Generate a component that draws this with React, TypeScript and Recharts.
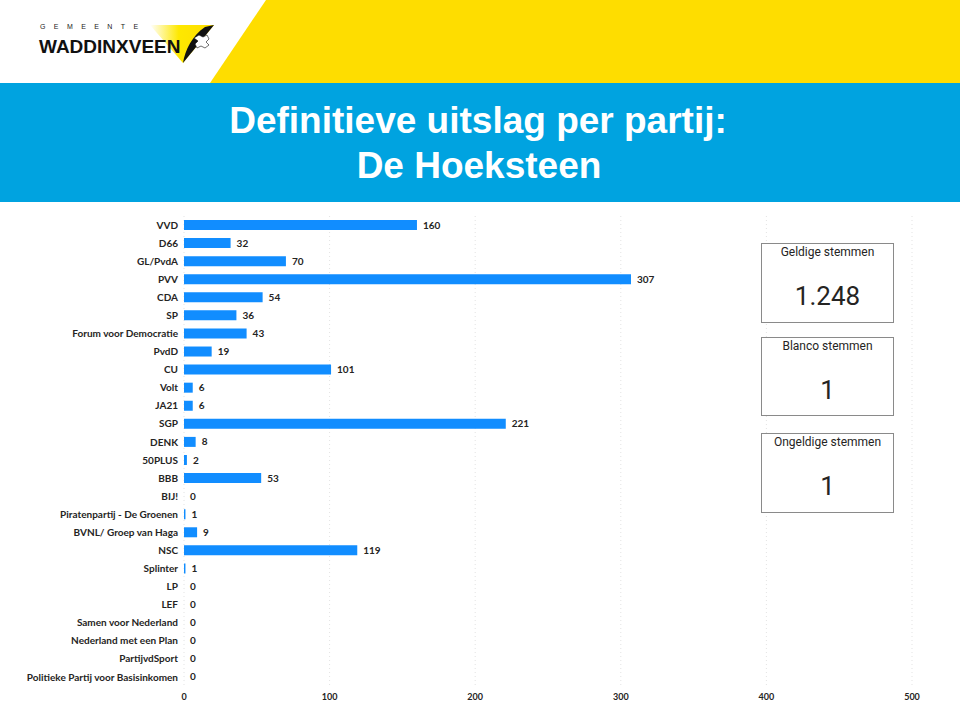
import React from 'react';
import { BarChart, Bar, XAxis, YAxis, CartesianGrid, LabelList } from 'recharts';

const parties = [
  'VVD', 'D66', 'GL/PvdA', 'PVV', 'CDA', 'SP', 'Forum voor Democratie', 'PvdD', 'CU', 'Volt',
  'JA21', 'SGP', 'DENK', '50PLUS', 'BBB', 'BIJ!', 'Piratenpartij - De Groenen',
  'BVNL/ Groep van Haga', 'NSC', 'Splinter', 'LP', 'LEF', 'Samen voor Nederland',
  'Nederland met een Plan', 'PartijvdSport', 'Politieke Partij voor Basisinkomen',
];
const votes = [160, 32, 70, 307, 54, 36, 43, 19, 101, 6, 6, 221, 8, 2, 53, 0, 1, 9, 119, 1, 0, 0, 0, 0, 0, 0];
const xTicks = [0, 100, 200, 300, 400, 500];

const cardTitles = ['Geldige stemmen', 'Blanco stemmen', 'Ongeldige stemmen'];
const cardValues = ['1.248', '1', '1'];

const data = parties.map((p, i) => ({ party: p, votes: votes[i] }));

const BLUE = '#118DFF';
const TEXT = '#252423';
const labelFont = 'Lato, "Open Sans", sans-serif';
const arial = 'Liberation Sans, Arial, sans-serif';

function Header() {
  return (
    <svg width={960} height={202} style={{ position: 'absolute', left: 0, top: 0 }}>
      <defs>
        <linearGradient id="tri" x1="0" y1="0" x2="1" y2="0">
          <stop offset="0" stopColor="#ffffff" />
          <stop offset="0.45" stopColor="#FEE800" />
          <stop offset="1" stopColor="#FEDD00" />
        </linearGradient>
      </defs>
      <rect x={0} y={0} width={960} height={83} fill="#ffffff" />
      <polygon points="266,0 960,0 960,83 210,83" fill="#FEDD00" />
      <rect x={0} y={83} width={960} height={119} fill="#00A3E0" />
      {/* logo */}
      <polygon points="150,25 214,25 183,63" fill="url(#tri)" />
      <path d="M214,25 L183,63 C185,50 192,36 205,27 Z" fill="#111" />
      <path d="M194,38 l5,-3 l4,2 l4,-2 l2,4 l-3,3 l3,3 l-4,3 l-4,-2 l-4,2 l-2,-4 l3,-3 z" fill="#fff" stroke="#111" strokeWidth={0.6} />
      <text x={40} y={29} fontSize={7} letterSpacing={8.4} fill="#222" fontFamily={arial}>GEMEENTE</text>
      <text x={39} y={53} fontSize={19} fontWeight={700} fill="#111" fontFamily={arial}>WADDINXVEEN</text>
      <text x={478} y={133} textAnchor="middle" fontSize={37} fontWeight={700} fill="#ffffff" fontFamily={arial}>
        Definitieve uitslag per partij:
      </text>
      <text x={479} y={178} textAnchor="middle" fontSize={37} fontWeight={700} fill="#ffffff" fontFamily={arial}>
        De Hoeksteen
      </text>
    </svg>
  );
}

function Cards() {
  const tops = [243, 337, 433];
  const heights = [80, 79, 80];
  return (
    <>
      {cardTitles.map((t, i) => (
        <div
          key={t}
          style={{
            position: 'absolute',
            left: 761,
            top: tops[i],
            width: 131,
            height: heights[i] - 2,
            border: '1px solid #8a8a8a',
            background: '#fff',
            fontFamily: 'Roboto, "Noto Sans", sans-serif',
            color: TEXT,
            textAlign: 'center',
          }}
        >
          <div style={{ fontSize: 12, marginTop: 1, lineHeight: '14px' }}>{t}</div>
          <div style={{ fontSize: 26, marginTop: 20, lineHeight: '34px', fontWeight: 400 }}>{cardValues[i]}</div>
        </div>
      ))}
    </>
  );
}

const PartyTick = (props: any) => {
  const { x, y, payload } = props;
  return (
    <text x={x} y={y} dy="0.355em" textAnchor="end" fontSize={10} fontWeight={700} fill={TEXT} fontFamily={labelFont}>
      {payload.value}
    </text>
  );
};

export default function App() {
  return (
    <div style={{ position: 'fixed', left: 0, top: 0, width: 960, height: 720, background: '#fff', overflow: 'hidden' }}>
      <Header />
      <div style={{ position: 'absolute', left: 0, top: 202 }}>
        <BarChart
          width={960}
          height={518}
          data={data}
          layout="vertical"
          margin={{ top: 14, right: 48, bottom: 4, left: 0 }}
          barCategoryGap="22%"
        >
          <CartesianGrid horizontal={false} stroke="#e3e3e3" strokeDasharray="1 3" />
          <XAxis
            type="number"
            domain={[0, 500]}
            ticks={xTicks}
            axisLine={false}
            tickLine={false}
            height={30}
            tick={{ fontSize: 9, fill: TEXT, fontWeight: 700, fontFamily: labelFont }}
          />
          <YAxis
            type="category"
            dataKey="party"
            width={184}
            axisLine={false}
            tickLine={false}
            tickMargin={0}
            interval={0}
            tick={<PartyTick />}
          />
          <Bar dataKey="votes" fill={BLUE} isAnimationActive={false} minPointSize={0.01}>
            <LabelList
              dataKey="votes"
              position="right"
              offset={6}
              style={{ fontSize: 10, fill: TEXT, fontWeight: 700, fontFamily: labelFont }}
            />
          </Bar>
        </BarChart>
      </div>
      <Cards />
    </div>
  );
}
